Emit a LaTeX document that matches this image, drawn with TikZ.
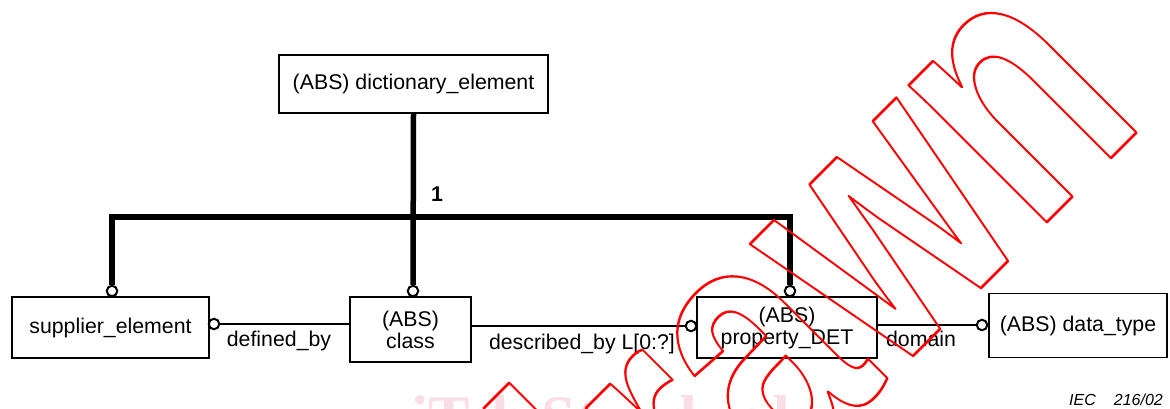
\documentclass[tikz,border=0pt]{standalone}
\usepackage{fontspec}
\setmainfont{Liberation Sans}
\newfontfamily\wmserif{Liberation Serif}
\definecolor{wmpink}{RGB}{249,221,231}
\definecolor{wmred}{RGB}{255,0,0}
\newcommand{\wmoutline}[1]{\special{pdf:literal direct 1 Tr 2.6 w 1 j}#1\special{pdf:literal direct 0 Tr}}
\begin{document}
\begin{tikzpicture}[x=1pt,y=-1pt,
  box/.style={draw, line width=1.6pt, inner sep=0pt, align=center, font=\fontsize{21.3}{22}\selectfont},
  lbl/.style={inner sep=0pt, anchor=base, font=\fontsize{21.3}{22}\selectfont},
  bus/.style={line width=5.5pt, line join=miter},
  conn/.style={line width=2pt},
  ring/.style={circle, draw, line width=2pt, fill=white, minimum size=10.5pt, inner sep=0pt}]
\useasboundingbox (0,0) rectangle (1170,408);
\clip (0,0) rectangle (1170,408);
\fill[white] (0,0) rectangle (1170,408);
% faint background watermark
\node[anchor=base west, inner sep=0, text=wmpink, font=\wmserif\bfseries\fontsize{62}{62}\selectfont] (wmb) at (411,438) {iTeh Standards};
% entities
\node[box, line width=2pt, minimum width=269pt, minimum height=58pt] (dict) at (413.5,84) {(ABS) dictionary\_element};
\node[box, minimum width=197pt, minimum height=61pt] (supp) at (110.5,327.5) {supplier\_element};
\node[box, minimum width=121pt, minimum height=65pt] (cls) at (410.5,329.5) {(ABS)\\class};
\node[box, minimum width=180pt, minimum height=61pt] (prop) at (787,327.5) {(ABS)\\property\_DET};
\node[box, minimum width=178pt, minimum height=64pt] (dtype) at (1078,325.5) {(ABS) data\_type};
% rings
\node[ring] (rS) at (112,291) {};
\node[ring] (rC) at (413,291) {};
\node[ring] (rP) at (790,291) {};
\node[ring] (rD) at (214,324) {};
\node[ring] (rB) at (691,326) {};
\node[ring] (rM) at (982,325) {};
\coordinate (jL) at (112,217);
\coordinate (jR) at (790,217);
% supertype tree
\draw[bus] (dict.south) -- (rC.north);
\draw[bus] (rS.north) -- (jL) -- (jR) -- (rP.north);
% relations
\draw[conn] (rD.east) -- (rD -| cls.west);
\draw[conn] (rB -| cls.east) -- (rB.west);
\draw[conn] (rM -| prop.east) -- (rM.west);
% labels
\node[lbl, font=\bfseries\fontsize{21.3}{22}\selectfont] (l1) at (437,201) {1};
\node[lbl] (ldef) at (279,346) {defined\_by};
\node[lbl] (ldesc) at (582,349) {described\_by L[0:?]};
\node[lbl] (ldom) at (921,346) {domain};
\node[anchor=base west, inner sep=0, font=\itshape\fontsize{16}{16}\selectfont] (iec) at (1069,405) {IEC\hspace{18pt}216/02};
% red outline watermark over the diagram
\node[rotate=45, xscale=0.72, anchor=base east, inner sep=0, text=wmred, font=\bfseries\fontsize{368}{368}\selectfont] (wm) at (1148,121) {\wmoutline{Withdrawn}};
\end{tikzpicture}
\end{document}
